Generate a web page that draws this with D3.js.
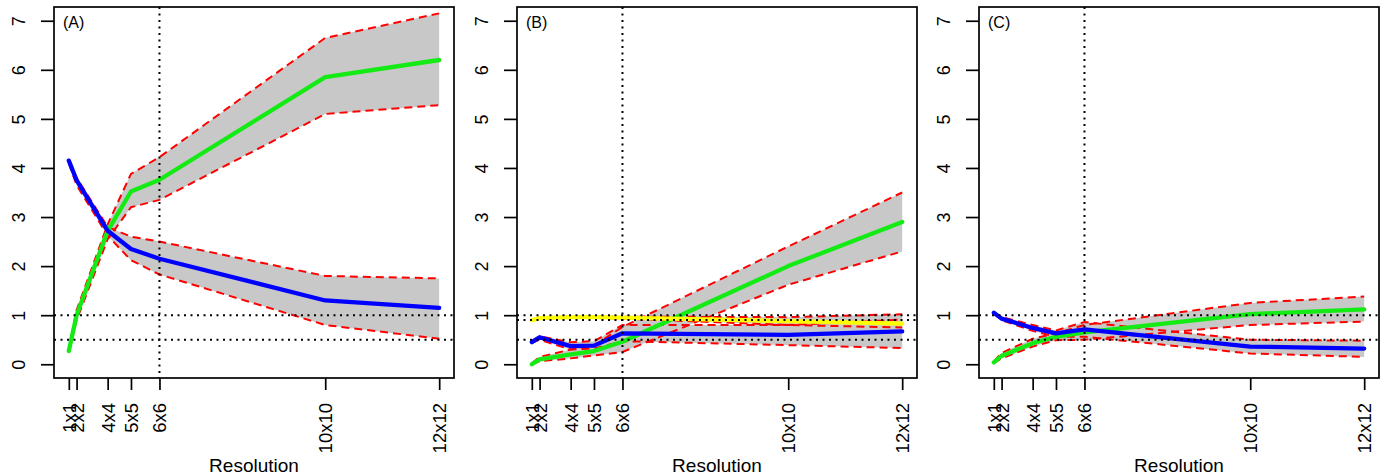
<!DOCTYPE html>
<html>
<head>
<meta charset="utf-8">
<script src="https://cdn.jsdelivr.net/npm/d3@7"></script>
<style>
  html, body { margin: 0; padding: 0; background: #fff; }
  svg { display: block; font-family: "Liberation Sans", Arial, sans-serif; }
</style>
</head>
<body>
<svg id="chart" width="1385" height="476"></svg>
<script>
// Grid resolutions (cells per side) and their numeric position (cell count)
const resLabels = ["1x1", "2x2", "4x4", "5x5", "6x6", "10x10", "12x12"];
const resX = [1, 4, 16, 25, 36, 100, 144];
const yTicks = [0, 1, 2, 3, 4, 5, 6, 7];

// Panel A
const aGreen = [0.27, 1.0, 2.72, 3.52, 3.76, 5.85, 6.2];
const aGreenHi = [0.3, 1.1, 2.85, 3.88, 4.22, 6.65, 7.15];
const aGreenLo = [0.24, 0.9, 2.55, 3.2, 3.35, 5.1, 5.28];
const aBlue = [4.15, 3.75, 2.72, 2.35, 2.15, 1.3, 1.15];
const aBlueHi = [4.15, 3.8, 2.8, 2.6, 2.5, 1.8, 1.75];
const aBlueLo = [4.1, 3.65, 2.62, 2.12, 1.83, 0.8, 0.52];

// Panel B
const bGreen = [0.0, 0.1, 0.2, 0.27, 0.46, 2.0, 2.9];
const bGreenHi = [0.02, 0.15, 0.3, 0.38, 0.76, 2.4, 3.5];
const bGreenLo = [0.0, 0.06, 0.12, 0.18, 0.25, 1.62, 2.3];
const bBlue = [0.45, 0.55, 0.37, 0.38, 0.63, 0.6, 0.67];
const bBlueHi = [0.47, 0.57, 0.45, 0.47, 0.8, 0.8, 0.91];
const bBlueLo = [0.43, 0.5, 0.3, 0.32, 0.47, 0.39, 0.33];
const bYellow = [0.9, 0.94, 0.96, 0.96, 0.95, 0.88, 0.83];
const bYellowHi = [0.91, 0.95, 0.97, 0.97, 0.97, 0.96, 1.02];
const bYellowLo = [0.89, 0.93, 0.95, 0.95, 0.93, 0.8, 0.75];

// Panel C
const cGreen = [0.04, 0.17, 0.43, 0.56, 0.65, 1.02, 1.12];
const cGreenHi = [0.06, 0.23, 0.52, 0.63, 0.8, 1.25, 1.38];
const cGreenLo = [0.02, 0.12, 0.36, 0.49, 0.5, 0.8, 0.87];
const cBlue = [1.05, 0.93, 0.74, 0.63, 0.71, 0.36, 0.32];
const cBlueHi = [1.06, 0.96, 0.8, 0.69, 0.86, 0.5, 0.48];
const cBlueLo = [1.04, 0.9, 0.68, 0.56, 0.56, 0.22, 0.15];

const GREEN = "#14ea14", BLUE = "#0000ff", YELLOW = "#ffff00";
const RED = "#ff0000", BAND = "#c8c8c8";

const panels = [
  { tag: "(A)", left: 54, hlines: [1, 0.5],
    series: [
      { mean: aGreen, hi: aGreenHi, lo: aGreenLo, color: GREEN },
      { mean: aBlue, hi: aBlueHi, lo: aBlueLo, color: BLUE }
    ] },
  { tag: "(B)", left: 517, hlines: [1, 0.9, 0.5],
    series: [
      { mean: bGreen, hi: bGreenHi, lo: bGreenLo, color: GREEN },
      { mean: bBlue, hi: bBlueHi, lo: bBlueLo, color: BLUE },
      { mean: bYellow, hi: bYellowHi, lo: bYellowLo, color: YELLOW }
    ] },
  { tag: "(C)", left: 979, hlines: [1, 0.5],
    series: [
      { mean: cGreen, hi: cGreenHi, lo: cGreenLo, color: GREEN },
      { mean: cBlue, hi: cBlueHi, lo: cBlueLo, color: BLUE }
    ] }
];

const svg = d3.select("#chart");
const W = 400, TOP = 7, BOTTOM = 378;
const vRef = 36; // 6x6 reference

// R-style 4% axis padding
const xPad = (d3.max(resX) - d3.min(resX)) * 0.04;
const yMin = 0, yMax = 7, yPad = (yMax - yMin) * 0.04;
const y = d3.scaleLinear().domain([yMin - yPad, yMax + yPad]).range([BOTTOM, TOP]);

panels.forEach(p => {
  const x = d3.scaleLinear()
    .domain([d3.min(resX) - xPad, d3.max(resX) + xPad])
    .range([p.left, p.left + W]);
  const g = svg.append("g");

  const line = d3.line().x((d, i) => x(resX[i])).y(d => y(d));
  const area = d3.area()
    .x((d, i) => x(resX[i]))
    .y0(d => y(d.lo)).y1(d => y(d.hi));

  // confidence bands
  p.series.forEach(s => {
    const pts = s.hi.map((h, i) => ({ hi: h, lo: s.lo[i] }));
    g.append("path").attr("d", area(pts)).attr("fill", BAND).attr("stroke", "none");
  });
  // band limits
  p.series.forEach(s => {
    [s.hi, s.lo].forEach(arr => {
      g.append("path").attr("d", line(arr))
        .attr("fill", "none").attr("stroke", RED)
        .attr("stroke-width", 2).attr("stroke-dasharray", "8,5");
    });
  });
  // mean curves
  p.series.forEach(s => {
    g.append("path").attr("d", line(s.mean))
      .attr("fill", "none").attr("stroke", s.color)
      .attr("stroke-width", 4.3).attr("stroke-linejoin", "round")
      .attr("stroke-linecap", "round");
  });

  // reference lines
  p.hlines.forEach(v => {
    g.append("line")
      .attr("x1", p.left).attr("x2", p.left + W)
      .attr("y1", y(v)).attr("y2", y(v))
      .attr("stroke", "#000").attr("stroke-width", 2)
      .attr("stroke-dasharray", "2,4.5");
  });
  g.append("line")
    .attr("x1", x(vRef)).attr("x2", x(vRef))
    .attr("y1", TOP).attr("y2", BOTTOM)
    .attr("stroke", "#000").attr("stroke-width", 2)
    .attr("stroke-dasharray", "2,4.5");

  // frame
  g.append("rect")
    .attr("x", p.left).attr("y", TOP)
    .attr("width", W).attr("height", BOTTOM - TOP)
    .attr("fill", "none").attr("stroke", "#000").attr("stroke-width", 1.7);

  // y axis
  const ya = g.append("g").attr("transform", `translate(${p.left},0)`)
    .call(d3.axisLeft(y).tickValues(yTicks).tickSize(13).tickFormat(d3.format("d")));
  ya.select(".domain").remove();
  ya.selectAll(".tick line").attr("stroke-width", 1.7);
  ya.selectAll(".tick text")
    .attr("font-size", 18).attr("fill", "#000")
    .attr("x", 0).attr("dy", 0).attr("dx", 0)
    .attr("text-anchor", "middle")
    .attr("transform", "translate(-29,0) rotate(-90)");

  // x axis
  const xa = g.append("g").attr("transform", `translate(0,${BOTTOM})`)
    .call(d3.axisBottom(x).tickValues(resX).tickSize(12)
      .tickFormat((d, i) => resLabels[i]));
  xa.select(".domain").remove();
  xa.selectAll(".tick line").attr("stroke-width", 1.7);
  xa.selectAll(".tick text")
    .attr("font-size", 18.5).attr("fill", "#000")
    .attr("y", 0).attr("dy", 0)
    .attr("text-anchor", "end")
    .attr("transform", "translate(6.5,25) rotate(-90)");

  // axis title
  g.append("text")
    .attr("x", p.left + W / 2).attr("y", 472)
    .attr("text-anchor", "middle").attr("font-size", 19)
    .text("Resolution");

  // panel tag
  g.append("text")
    .attr("x", p.left + 9).attr("y", 28)
    .attr("font-size", 16)
    .text(p.tag);
});
</script>
</body>
</html>
